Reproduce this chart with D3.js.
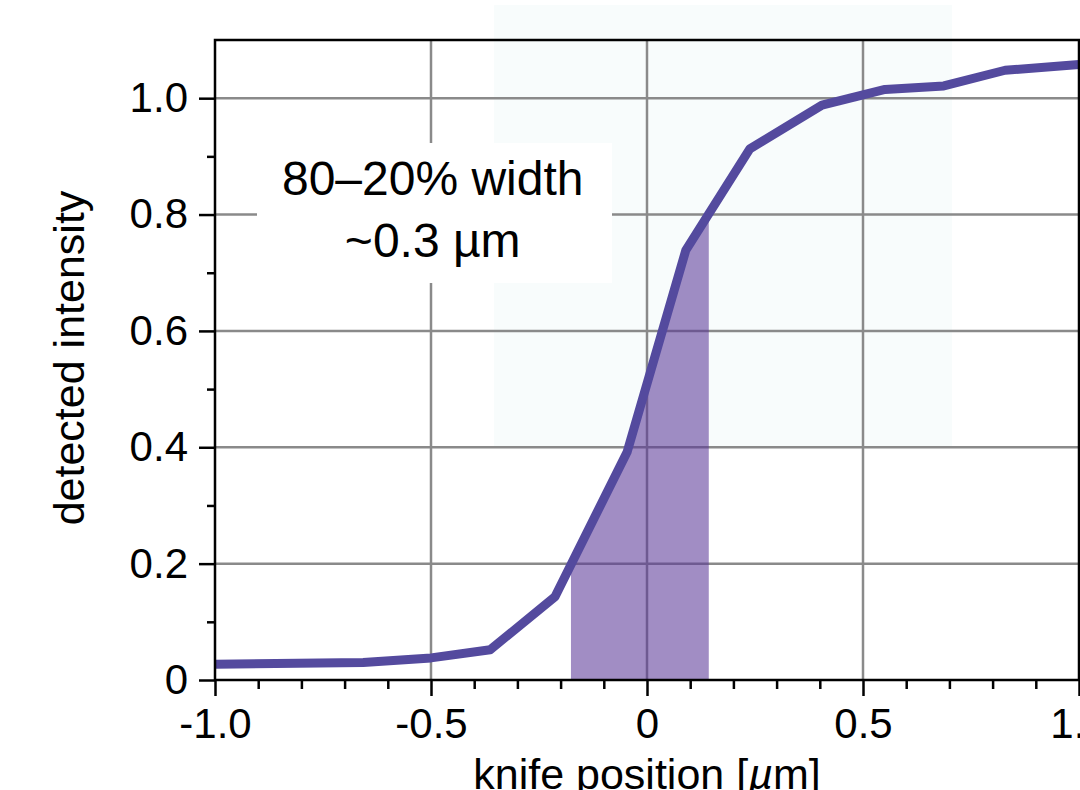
<!DOCTYPE html>
<html>
<head>
<meta charset="utf-8">
<script src="https://cdn.jsdelivr.net/npm/d3@7"></script>
<style>
  html, body { margin: 0; padding: 0; background: #fff; }
  svg { display: block; font-family: "Liberation Sans", Arial, Helvetica, sans-serif; }
</style>
</head>
<body>
<svg width="1080" height="790"></svg>
<script>
// knife-edge scan
var knifePos  = [-1.0, -0.657, -0.5, -0.363, -0.213, -0.046, 0.09, 0.238, 0.405, 0.551, 0.687, 0.829, 1.0];
var intensity = [0.027, 0.030, 0.038, 0.052, 0.143, 0.392, 0.739, 0.913, 0.988, 1.015, 1.021, 1.048, 1.058];

// 80-20% band (shaded under the curve)
var bandX = [-0.176, 0.143];
// faint background panel
var panelX = [-0.354, 0.706];
var panelY = [0.4, 1.16];

var xMajor = [-1.0, -0.5, 0, 0.5, 1.0];
var xMajorLabels = ['-1.0', '-0.5', '0', '0.5', '1.0'];
var xMinor = [-0.9, -0.8, -0.7, -0.6, -0.4, -0.3, -0.2, -0.1, 0.1, 0.2, 0.3, 0.4, 0.6, 0.7, 0.8, 0.9];
var yMajor = [0, 0.2, 0.4, 0.6, 0.8, 1.0];
var yMajorLabels = ['0', '0.2', '0.4', '0.6', '0.8', '1.0'];
var yMinor = [0.1, 0.3, 0.5, 0.7, 0.9];
var xGrid = [-0.5, 0, 0.5];
var yGrid = [0.2, 0.4, 0.6, 0.8, 1.0];

var annotation = ['80\u201320% width', '~0.3 \u00b5m'];

var data = knifePos.map(function(x, i) { return { x: x, y: intensity[i] }; });

var plotLeft = 215, plotRight = 1079, plotTop = 40, plotBottom = 680;

var xScale = d3.scaleLinear().domain([-1, 1]).range([plotLeft, plotRight]);
var yScale = d3.scaleLinear().domain([0, 1.1]).range([plotBottom, plotTop]);

var svg = d3.select('svg');

// faint panel
svg.append('rect')
  .attr('x', xScale(panelX[0]))
  .attr('y', yScale(panelY[1]))
  .attr('width', xScale(panelX[1]) - xScale(panelX[0]))
  .attr('height', yScale(panelY[0]) - yScale(panelY[1]))
  .attr('fill', '#f8fcfc');

// grid
svg.selectAll('line.vgrid')
  .data(xGrid)
  .enter()
  .append('line')
    .attr('class', 'vgrid')
    .attr('x1', function(d) { return xScale(d); })
    .attr('x2', function(d) { return xScale(d); })
    .attr('y1', plotBottom)
    .attr('y2', plotTop)
    .attr('stroke', '#8a8a8a')
    .attr('stroke-width', 2.5);

svg.selectAll('line.hgrid')
  .data(yGrid)
  .enter()
  .append('line')
    .attr('class', 'hgrid')
    .attr('x1', plotLeft)
    .attr('x2', plotRight)
    .attr('y1', function(d) { return yScale(d); })
    .attr('y2', function(d) { return yScale(d); })
    .attr('stroke', '#8a8a8a')
    .attr('stroke-width', 2.5);

// shaded band under the curve
svg.append('clipPath')
  .attr('id', 'bandClip')
  .append('rect')
    .attr('x', xScale(bandX[0]))
    .attr('y', plotTop)
    .attr('width', xScale(bandX[1]) - xScale(bandX[0]))
    .attr('height', plotBottom - plotTop);

var area = d3.area()
  .x(function(d) { return xScale(d.x); })
  .y0(yScale(0))
  .y1(function(d) { return yScale(d.y); });

svg.append('path')
  .datum(data)
  .attr('d', area)
  .attr('clip-path', 'url(#bandClip)')
  .attr('fill', 'rgb(89,54,152)')
  .attr('fill-opacity', 0.57);

// the curve
var line = d3.line()
  .x(function(d) { return xScale(d.x); })
  .y(function(d) { return yScale(d.y); });

svg.append('path')
  .datum(data)
  .attr('d', line)
  .attr('fill', 'none')
  .attr('stroke', '#544a9e')
  .attr('stroke-width', 9)
  .attr('stroke-linejoin', 'round');

// annotation box
var note = svg.append('g');
note.append('rect')
  .attr('fill', '#fff')
  .attr('x', 257)
  .attr('y', 143)
  .attr('width', 355)
  .attr('height', 140);
var noteText = note.append('text')
  .attr('text-anchor', 'middle')
  .attr('font-size', 48)
  .attr('fill', '#000');
noteText.selectAll('tspan')
  .data(annotation)
  .enter()
  .append('tspan')
    .attr('x', xScale(-0.496))
    .attr('y', function(d, i) { return 195 + i * 62; })
    .text(function(d) { return d; });

// frame
svg.append('path')
  .attr('d', 'M' + plotLeft + ',' + plotBottom + 'V' + plotTop + 'H' + plotRight + 'V' + plotBottom + 'Z')
  .attr('stroke', '#000')
  .attr('stroke-width', 2.5)
  .attr('fill', 'none');

// axes
function styleAxis(g) {
  g.select('.domain').remove();
  g.selectAll('.tick line').attr('stroke', '#000').attr('stroke-width', 2.5);
  g.selectAll('.tick text')
    .attr('font-size', 42)
    .attr('fill', '#000')
    .attr('font-family', '"Liberation Sans", Arial, Helvetica, sans-serif');
}

svg.append('g')
  .attr('transform', 'translate(0,' + plotBottom + ')')
  .call(d3.axisBottom(xScale).tickValues(xMinor).tickSize(9).tickFormat(''))
  .call(styleAxis);

svg.append('g')
  .attr('transform', 'translate(0,' + plotBottom + ')')
  .call(d3.axisBottom(xScale).tickValues(xMajor).tickSize(16).tickPadding(12)
    .tickFormat(function(d, i) { return xMajorLabels[i]; }))
  .call(styleAxis);

svg.append('g')
  .attr('transform', 'translate(' + plotLeft + ',0)')
  .call(d3.axisLeft(yScale).tickValues(yMinor).tickSize(8).tickFormat(''))
  .call(styleAxis);

svg.append('g')
  .attr('transform', 'translate(' + plotLeft + ',0)')
  .call(d3.axisLeft(yScale).tickValues(yMajor).tickSize(16).tickPadding(11)
    .tickFormat(function(d, i) { return yMajorLabels[i]; }))
  .call(styleAxis);

// axis titles
var xTitle = svg.append('text')
  .attr('x', xScale(0))
  .attr('y', 789)
  .attr('text-anchor', 'middle')
  .attr('font-size', 43)
  .attr('fill', '#000');
xTitle.append('tspan').text('knife position [');
xTitle.append('tspan').attr('font-style', 'italic').text('\u00b5');
xTitle.append('tspan').text('m]');

svg.append('text')
  .attr('transform', 'translate(84,358) rotate(-90)')
  .attr('text-anchor', 'middle')
  .attr('font-size', 43)
  .attr('fill', '#000')
  .text('detected intensity');
</script>
</body>
</html>
